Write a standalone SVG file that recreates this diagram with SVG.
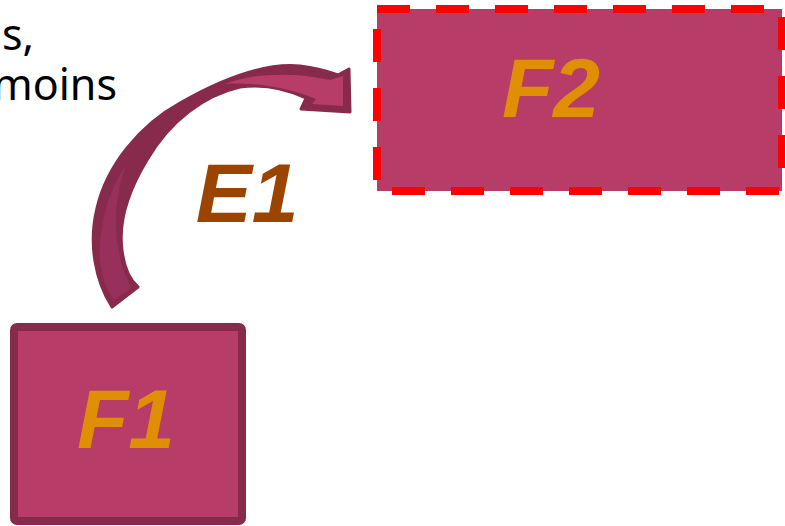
<svg xmlns="http://www.w3.org/2000/svg" width="785" height="526" viewBox="0 0 785 526">
<style>
.lbl{font-family:"Liberation Sans",Arial,sans-serif;font-weight:bold;font-style:italic;font-size:84px;text-anchor:middle}
.f{fill:#E08F05}
.body{font-family:"Noto Sans","Open Sans",sans-serif;font-size:43px;fill:#000;text-anchor:end}
</style>
<rect width="785" height="526" fill="#fff"/>
<g id="caption">
<text class="body" x="34" y="50">s,</text>
<text class="body" x="117" y="100">moins</text>
</g>
<g id="F1">
<rect x="14" y="327" width="228" height="194" rx="3" fill="#B83C68" stroke="#872A4C" stroke-width="8"/>
<text class="lbl f" x="126" y="448">F1</text>
</g>
<g id="F2">
<rect x="377" y="9" width="405" height="182" fill="#B83C68" stroke="#FF0000" stroke-width="8" stroke-dasharray="33 26"/>
<text class="lbl f" x="551" y="117">F2</text>
</g>
<g id="connectors">
<g id="E1-arrow">
<path d="M112,307 C96,282 88,245 97,208 C107,165 140,125 180,103 C215,83 260,62 300,66 C318,68 330,72 338,75 L349,69 L350,112 L301,109 L306,98 C285,88 262,84 240,87 C205,95 170,120 147,160 C130,188 118,220 122,250 C124,268 130,280 138,287 Z" fill="#872A4C" stroke="#872A4C" stroke-width="3" stroke-linejoin="round"/>
<path d="M225,84 C250,74 290,71 330,80 L343,76 L343,106 L312,104 L316,99 C290,88 255,82 225,84 Z" fill="#B83C68"/>
<path d="M126,165 C108,190 98,230 100,260 C102,280 108,292 114,300 L131,288 C122,270 115,245 116,215 C117,195 121,178 126,165 Z" fill="#97305A"/>
</g>
<text class="lbl" x="247" y="222" fill="#9A4400">E1</text>
</g>
</svg>
